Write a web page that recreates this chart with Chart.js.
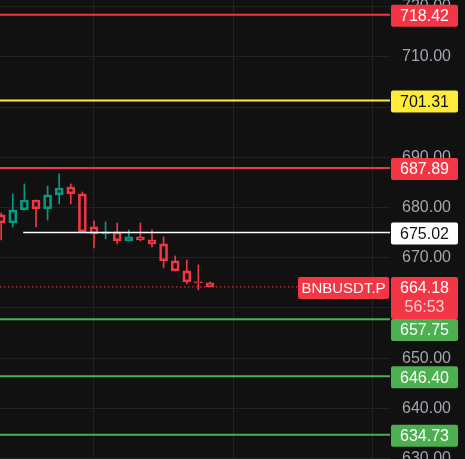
<!DOCTYPE html>
<html>
<head>
<meta charset="utf-8">
<script src="https://cdn.jsdelivr.net/npm/chart.js@4.4.0/dist/chart.umd.min.js"></script>
<style>
  body { margin: 0; background: #111111; }
  #wrap { width: 465px; height: 459px; }
</style>
</head>
<body>
<div id="wrap"><canvas id="chart"></canvas></div>
<script>
const symbol = 'BNBUSDT.P';
const countdown = '56:53';
const lastPrice = 664.18;

// candles, oldest first
const candleOpen  = [678.53, 676.93, 679.52, 681.51, 679.72, 682.51, 684.10, 682.71, 676.14, 674.74, 675.14, 673.35, 674.14, 673.55, 672.75, 669.36, 667.37, 665.18, 664.98];
const candleHigh  = [678.90, 682.71, 684.70, 681.51, 684.30, 686.69, 684.70, 683.10, 677.33, 677.13, 676.93, 675.54, 676.93, 675.54, 674.14, 670.36, 669.56, 668.57, 665.18];
const candleLow   = [673.55, 676.14, 679.52, 676.14, 677.53, 680.72, 680.72, 674.94, 671.95, 673.75, 672.75, 673.35, 673.35, 672.15, 667.97, 667.37, 664.78, 663.59, 664.18];
const candleClose = [676.93, 679.52, 681.51, 679.72, 682.51, 683.90, 682.71, 675.14, 674.74, 675.14, 673.35, 674.14, 673.55, 672.75, 669.36, 667.37, 665.18, 664.98, 664.18];

// horizontal levels drawn on the chart
const levelPrices = [718.42, 701.31, 687.89, 675.02, 657.75, 646.40, 634.73];
const levelFrom   = [null, null, null, 1.9, null, null, null]; // bar index where a level starts (null = whole width)
const levelColors = ['#f23645', '#ffeb3b', '#f23645', '#ffffff', '#4caf50', '#4caf50', '#4caf50'];
const levelText   = ['#ffffff', '#131313', '#ffffff', '#131313', '#ffffff', '#ffffff', '#ffffff'];

const UP = '#089981';
const DOWN = '#f23645';
const xMin = -0.103, xMax = 33.52;

const idx = candleOpen.map((_, i) => i);
const candleColors = idx.map(i => candleClose[i] >= candleOpen[i] ? UP : DOWN);

let datasets = [];

levelPrices.forEach((p, i) => {
    datasets.push({
        type: 'line',
        data: [{ x: levelFrom[i] === null ? xMin : levelFrom[i], y: p }, { x: xMax, y: p }],
        borderColor: levelColors[i],
        borderWidth: levelColors[i] === '#ffffff' ? 1.5 : 2,
        pointRadius: 0,
        order: 0
    });
});

// last price dotted line
datasets.push({
    type: 'line',
    data: [{ x: xMin, y: lastPrice }, { x: xMax, y: lastPrice }],
    borderColor: DOWN,
    borderWidth: 1,
    borderDash: [1.5, 2.5],
    pointRadius: 0,
    order: 0
});

// wicks (above and below the body)
datasets.push({
    type: 'bar',
    data: idx.map(i => ({ x: i, y: [Math.max(candleOpen[i], candleClose[i]), candleHigh[i]] })),
    backgroundColor: candleColors,
    borderWidth: 0,
    barThickness: 1,
    grouped: false,
    order: 2
});
datasets.push({
    type: 'bar',
    data: idx.map(i => ({ x: i, y: [candleLow[i], Math.min(candleOpen[i], candleClose[i])] })),
    backgroundColor: candleColors,
    borderWidth: 0,
    barThickness: 1,
    grouped: false,
    order: 2
});
// hollow bodies
datasets.push({
    type: 'bar',
    data: idx.map(i => ({ x: i, y: [candleOpen[i], candleClose[i]] })),
    backgroundColor: 'rgba(0,0,0,0)',
    borderColor: candleColors,
    borderWidth: 2,
    borderSkipped: false,
    barThickness: 8,
    grouped: false,
    order: 1
});

// price axis labels
const priceLabels = {
    id: 'priceLabels',
    afterDraw(chart) {
        const ctx = chart.ctx;
        const y = chart.scales.y;
        const left = chart.chartArea.right + 1;
        const w = 67;
        let boxes = levelPrices.map((p, i) => ({
            top: y.getPixelForValue(p) - 11 + 1, h: 22, bg: levelColors[i], fg: levelText[i], lines: [p.toFixed(2)]
        }));
        boxes.push({ top: y.getPixelForValue(lastPrice) - 10, h: 42, bg: DOWN, fg: '#ffffff', lines: [lastPrice.toFixed(2), countdown], last: true });
        boxes.sort((a, b) => a.top - b.top);
        let prevBottom = -100;
        boxes.forEach(b => {
            if (b.top < prevBottom) b.top = prevBottom;
            prevBottom = b.top + b.h;
        });

        ctx.save();
        ctx.font = "16px 'Liberation Sans', Arial, sans-serif";
        ctx.textAlign = 'center';
        ctx.textBaseline = 'middle';
        boxes.forEach(b => {
            ctx.fillStyle = b.bg;
            ctx.beginPath();
            ctx.roundRect(left, b.top, w, b.h, 2);
            ctx.fill();
            ctx.fillStyle = b.fg;
            ctx.fillText(b.lines[0], left + w / 2, b.top + 12);
            if (b.last) {
                ctx.fillStyle = 'rgba(255,255,255,0.75)';
                ctx.fillText(b.lines[1], left + w / 2, b.top + 31);

                // symbol tag left of the axis
                const sTop = b.top;
                const sRight = chart.chartArea.right - 1;
                const sW = 91;
                ctx.fillStyle = DOWN;
                ctx.beginPath();
                ctx.roundRect(sRight - sW, sTop, sW, 22, 2);
                ctx.fill();
                ctx.fillStyle = '#ffffff';
                ctx.font = "15px 'Liberation Sans', Arial, sans-serif";
                ctx.fillText(symbol, sRight - sW / 2, sTop + 12);
                ctx.font = "16px 'Liberation Sans', Arial, sans-serif";
            }
        });
        ctx.restore();
    }
};

Chart.defaults.font.family = "'Liberation Sans', Arial, sans-serif";

new Chart(document.getElementById('chart'), {
    type: 'bar',
    data: { datasets: datasets },
    options: {
        responsive: true,
        maintainAspectRatio: false,
        animation: false,
        layout: { padding: 0 },
        plugins: { legend: { display: false }, tooltip: { enabled: false } },
        scales: {
            x: {
                type: 'linear',
                min: xMin,
                max: xMax,
                offset: false,
                ticks: { display: false },
                grid: { color: '#222222', drawTicks: false, offset: false },
                border: { display: false },
                afterBuildTicks: s => { s.ticks = [8, 20, 32].map(v => ({ value: v })); },
                afterFit: s => { s.height = 0; s.paddingLeft = 0; s.paddingRight = 0; }
            },
            y: {
                type: 'linear',
                position: 'right',
                min: 629.9,
                max: 721.35,
                ticks: {
                    stepSize: 10,
                    includeBounds: false,
                    color: '#a3a6af',
                    font: { size: 16 },
                    padding: 12,
                    callback: v => v.toFixed(2)
                },
                grid: { color: '#222222', drawTicks: false },
                border: { display: false },
                afterFit: s => { s.width = 75; s.paddingTop = 0; s.paddingBottom = 0; }
            }
        }
    },
    plugins: [priceLabels]
});
</script>
</body>
</html>
